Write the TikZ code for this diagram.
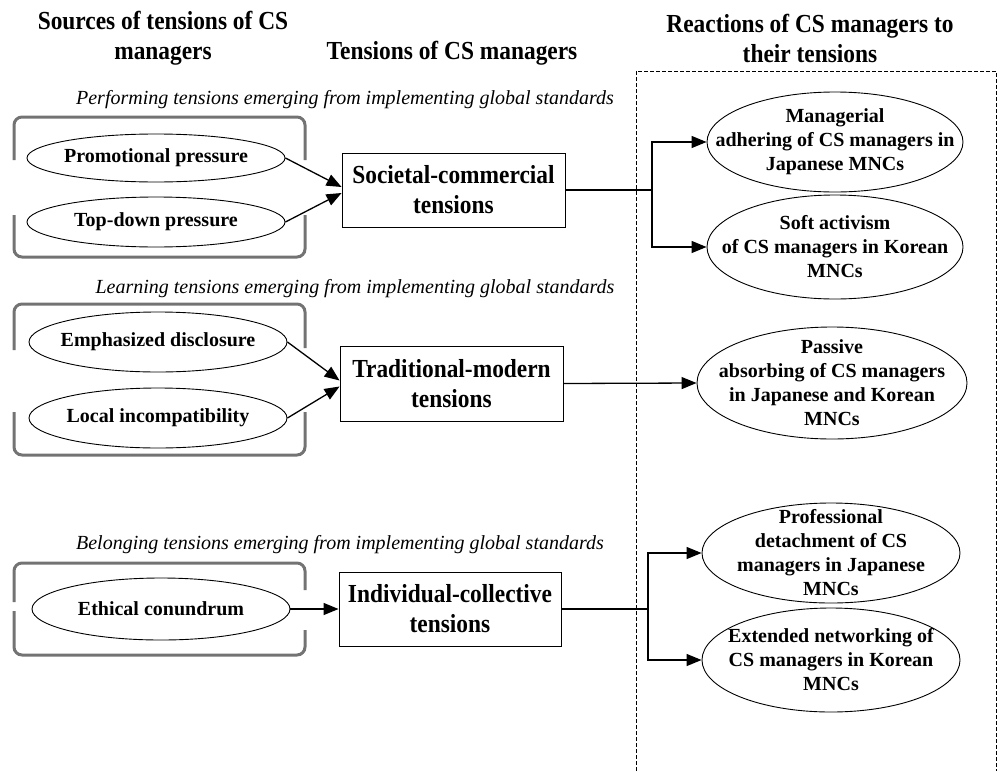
\documentclass[tikz,border=0pt]{standalone}
\usepackage{fontspec}
\setmainfont{Liberation Serif}
\newfontfamily\narrowserif{Liberation Serif}[FakeStretch=0.9]
\usetikzlibrary{arrows.meta,shapes.geometric}
\begin{document}
\begin{tikzpicture}[x=1pt,y=-1pt,
  oval/.style={ellipse, draw, line width=0.9pt, inner sep=0pt},
  ovaltxt/.style={font=\bfseries\fontsize{20}{24}\selectfont, align=center, inner sep=0pt},
  tbox/.style={draw, line width=0.9pt, minimum width=223pt, minimum height=74pt, align=center, font=\narrowserif\bfseries\fontsize{26}{30}\selectfont, inner sep=0pt},
  head/.style={font=\narrowserif\bfseries\fontsize{26}{30}\selectfont, align=center, inner sep=0pt},
  ital/.style={font=\itshape\fontsize{20}{24}\selectfont, inner sep=0pt},
  arr/.style={line width=1.3pt, -{Triangle[length=15pt,width=12pt]}},
  conn/.style={line width=1.3pt},
  brk/.style={line width=3pt, draw=black!55, rounded corners=8pt},
  dbox/.style={line width=1pt, dash pattern=on 4pt off 2pt}]
\useasboundingbox (0,0) rectangle (1000,771);

% headers
\node[head] (h1) at (163,38) {Sources of tensions of CS\\managers};
\node[head] (h2) at (452,53) {Tensions of CS managers};
\node[head] (h3) at (810,38) {Reactions of CS managers to\\their tensions};

% dashed frame
\draw[dbox] (636,771) -- (636,71) -- (996,71) -- (996,771);

% italic captions
\node[ital] (t1) at (345,100) {Performing tensions emerging from implementing global standards};
\node[ital] (t2) at (355,289) {Learning tensions emerging from implementing global standards};
\node[ital] (t3) at (340,545) {Belonging tensions emerging from implementing global standards};

% brackets
\draw[brk] (14,160) -- (14,117) -- (305,117) -- (305,160);
\draw[brk] (14,215) -- (14,257) -- (305,257) -- (305,215);
\draw[brk] (14,350) -- (14,304) -- (305,304) -- (305,348);
\draw[brk] (14,412) -- (14,455) -- (305,455) -- (305,412);
\draw[brk] (14,602) -- (14,563) -- (305,563) -- (305,590);
\draw[brk] (14,611) -- (14,655) -- (305,655) -- (305,630);

% left ellipses
\node[oval, minimum width=258pt, minimum height=48pt] (e1) at (156,158) {};
\node[ovaltxt] (e1t) at (e1) {Promotional pressure};
\node[oval, minimum width=258pt, minimum height=50pt] (e2) at (156,222) {};
\node[ovaltxt] (e2t) at (e2) {Top-down pressure};
\node[oval, minimum width=258pt, minimum height=60pt] (e3) at (158,342) {};
\node[ovaltxt] (e3t) at (e3) {Emphasized disclosure};
\node[oval, minimum width=258pt, minimum height=60pt] (e4) at (158,418) {};
\node[ovaltxt] (e4t) at (e4) {Local incompatibility};
\node[oval, minimum width=258pt, minimum height=62pt] (e5) at (161,609) {};
\node[ovaltxt] (e5t) at (e5) {Ethical conundrum};

% boxes
\node[tbox] (b1) at (453.5,190) {Societal-commercial\\tensions};
\node[tbox, minimum height=75pt] (b2) at (451.5,383.5) {Traditional-modern\\tensions};
\node[tbox, minimum width=222pt] (b3) at (450,609) {Individual-collective\\tensions};

% right ellipses
\node[oval, minimum width=256pt, minimum height=100pt] (r1) at (835,142) {};
\node[ovaltxt] (r1t) at (r1) {Managerial\\adhering of CS managers in\\Japanese MNCs};
\node[oval, minimum width=256pt, minimum height=104pt] (r2) at (835,247) {};
\node[ovaltxt] (r2t) at (r2) {Soft activism\\of CS managers in Korean\\MNCs};
\node[oval, minimum width=270pt, minimum height=112pt] (r3) at (832,383) {};
\node[ovaltxt] (r3t) at (r3) {Passive\\absorbing of CS managers\\in Japanese and Korean\\MNCs};
\node[oval, minimum width=258pt, minimum height=100pt] (r4) at (831,553) {};
\node[ovaltxt] (r4t) at (r4) {Professional\\detachment of CS\\managers in Japanese\\MNCs};
\node[oval, minimum width=258pt, minimum height=104pt] (r5) at (831,660) {};
\node[ovaltxt] (r5t) at (r5) {Extended networking of\\CS managers in Korean\\MNCs};

% left connectors
\draw[arr] (e1.east) -- ([yshift=3pt]b1.west);
\draw[arr] (e2.east) -- ([yshift=-3pt]b1.west);
\draw[arr] (e3.east) -- ([yshift=3pt]b2.west);
\draw[arr] (e4.east) -- ([yshift=-3pt]b2.west);
\draw[arr] (e5.east) -- (b3.west);

% right connectors
\coordinate (j1) at (652,190);
\draw[conn] (b1.east) -- (j1);
\draw[arr] (j1) |- (r1.west);
\draw[arr] (j1) |- (r2.west);
\draw[arr] (b2.east) -- (r3.west);
\coordinate (j3) at (648,609);
\draw[conn] (b3.east) -- (j3);
\draw[arr] (j3) |- (r4.west);
\draw[arr] (j3) |- (r5.west);
\end{tikzpicture}
\end{document}
